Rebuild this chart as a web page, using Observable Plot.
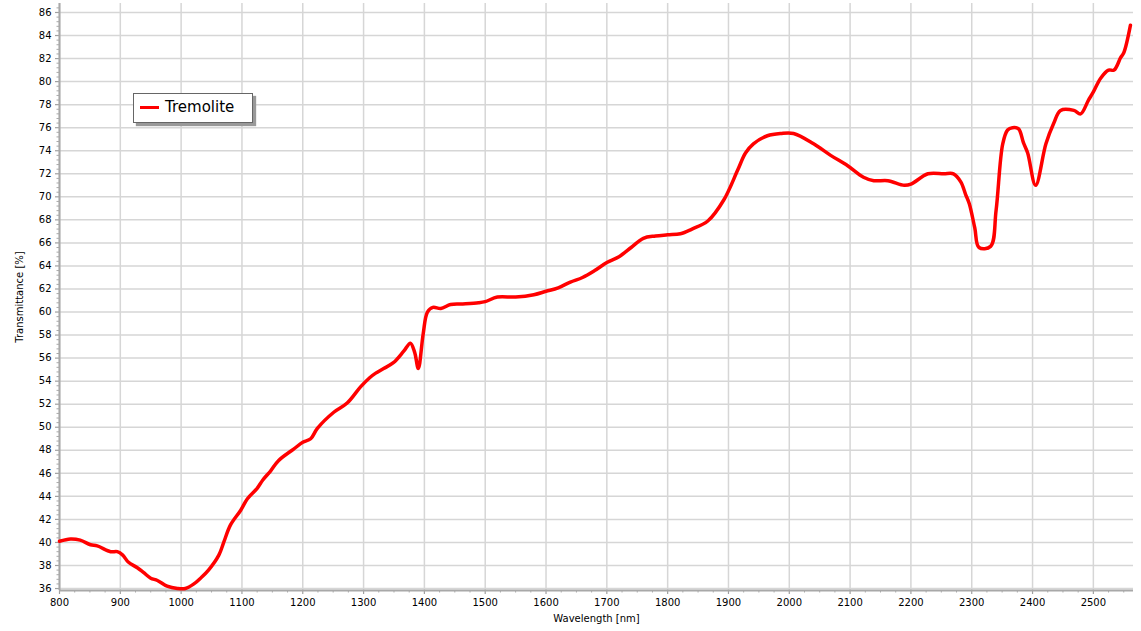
<!DOCTYPE html>
<html>
<head>
<meta charset="utf-8">
<script src="https://cdn.jsdelivr.net/npm/d3@7"></script>
<script src="https://cdn.jsdelivr.net/npm/@observablehq/plot@0.6"></script>
<style>
  html, body { margin: 0; padding: 0; background: #fff; }
  #wrap { position: relative; width: 1141px; height: 631px; }
  #legend {
    position: absolute; left: 133px; top: 93px; width: 118px; height: 28px;
    border: 1px solid #666; background: #fff; box-shadow: 3px 3px 1px #999;
    font-family: "DejaVu Sans", Verdana, sans-serif; font-size: 15px; color: #000;
  }
  #legend .sw { position: absolute; left: 6px; top: 12px; width: 19px; height: 3px; background: #ff0000; }
  #legend .tx { position: absolute; left: 31px; top: 4px; }
</style>
</head>
<body>
<div id="wrap">
  <div id="chart"></div>
  <div id="legend"><div class="sw"></div><div class="tx">Tremolite</div></div>
</div>
<script>
const seriesName = "Tremolite";
const wavelength = [
  800, 818, 834, 851, 862, 884, 895, 904, 913, 928, 938, 950, 961, 977, 994, 1007,
  1021, 1032, 1045, 1062, 1070, 1081, 1098, 1109, 1125, 1134, 1147, 1160, 1185, 1200,
  1213, 1224, 1251, 1273, 1295, 1310, 1320, 1333, 1349, 1366, 1377, 1384, 1390, 1398,
  1405, 1414, 1427, 1443, 1460, 1489, 1500, 1520, 1550, 1580, 1600, 1620, 1640, 1660,
  1680, 1700, 1720, 1740, 1760, 1780, 1800, 1821, 1840, 1866, 1892, 1915, 1928, 1941,
  1964, 1986, 2007, 2040, 2068, 2096, 2122, 2139, 2162, 2189, 2200, 2228, 2254, 2270,
  2282, 2290, 2296, 2305, 2312, 2331, 2340, 2351, 2359, 2367, 2377, 2385, 2392, 2405,
  2422, 2435, 2446, 2468, 2479, 2492, 2500, 2512, 2525, 2534, 2545, 2550, 2561
];
const transmittance = [
  40.1, 40.3, 40.2, 39.8, 39.7, 39.2, 39.2, 38.9, 38.3, 37.8, 37.4, 36.9, 36.7, 36.2, 36.0, 36.0,
  36.4, 36.9, 37.6, 38.9, 40.0, 41.5, 42.8, 43.8, 44.7, 45.4, 46.2, 47.1, 48.1, 48.7,
  49.0, 49.9, 51.3, 52.1, 53.5, 54.3, 54.7, 55.1, 55.6, 56.6, 57.3, 56.5, 55.1, 58.1,
  60.0, 60.4, 60.3, 60.65, 60.7, 60.8, 60.9, 61.3, 61.3, 61.5, 61.8, 62.1, 62.6, 63.0,
  63.6, 64.3, 64.8, 65.6, 66.4, 66.6, 66.7, 66.8, 67.2, 67.9, 69.7, 72.3, 73.8, 74.6,
  75.3, 75.5, 75.5, 74.6, 73.6, 72.7, 71.7, 71.4, 71.4, 71.0, 71.1, 72.0, 72.0, 72.0,
  71.3, 70.2, 69.4, 67.3, 65.6, 65.7, 68.8, 74.6, 75.8, 76.0, 75.9, 74.7, 73.8, 71.0,
  74.6, 76.4, 77.5, 77.5, 77.2, 78.4, 79.1, 80.3, 81.0, 81.0, 82.1, 82.5, 84.9
];
const xMajorTicks = d3.range(800, 2501, 100);
const xMinorTicks = d3.range(800, 2566, 25).filter(v => v % 100 !== 0);
const yMajorTicks = d3.range(36, 87, 2);
const yMinorTicks = d3.range(36, 86.8, 0.4).map(v => +v.toFixed(1)).filter(v => Math.abs(v / 2 - Math.round(v / 2)) > 1e-6);

const data = wavelength.map((w, i) => ({w, t: transmittance[i]}));

const chart = Plot.plot({
  width: 1141,
  height: 631,
  marginLeft: 59,
  marginRight: 8,
  marginTop: 3,
  marginBottom: 41,
  style: {fontFamily: "DejaVu Sans, Verdana, sans-serif", fontSize: "10px", color: "#000", background: "#fff"},
  x: {domain: [800, 2566]},
  y: {domain: [35.83, 86.78]},
  marks: [
    Plot.gridX(xMajorTicks, {stroke: "#d6d6d6", strokeOpacity: 1, strokeWidth: 1.5}),
    Plot.gridY(yMajorTicks, {stroke: "#d6d6d6", strokeOpacity: 1, strokeWidth: 1.5}),
    Plot.axisX({ticks: xMinorTicks, tickSize: 2.5, stroke: "#a8a8a8", strokeWidth: 1, tickFormat: () => "", label: null}),
    Plot.axisY({ticks: yMinorTicks, tickSize: 2.5, stroke: "#a8a8a8", strokeWidth: 1, tickFormat: () => "", label: null}),
    Plot.axisX({ticks: xMajorTicks, tickSize: 4, tickPadding: 4, stroke: "#a0a0a0", strokeWidth: 1.2, fill: "#000",
      tickFormat: d => String(d), label: "Wavelength [nm]", labelAnchor: "center", labelArrow: "none", labelOffset: 31, fontSize: 10}),
    Plot.axisY({ticks: yMajorTicks, tickSize: 4, tickPadding: 4, stroke: "#a0a0a0", strokeWidth: 1.2, fill: "#000",
      tickFormat: d => String(d), label: "Transmittance [%]", labelAnchor: "center", labelArrow: "none", labelOffset: 44, fontSize: 10}),
    Plot.ruleY([35.83], {stroke: "#a8a8a8", strokeWidth: 2}),
    Plot.ruleX([800], {stroke: "#a8a8a8", strokeWidth: 2}),
    Plot.line(data, {x: "w", y: "t", stroke: "#ff0000", strokeWidth: 3.5, curve: "catmull-rom", strokeLinejoin: "round"})
  ]
});
document.getElementById("chart").appendChild(chart);
</script>
</body>
</html>
